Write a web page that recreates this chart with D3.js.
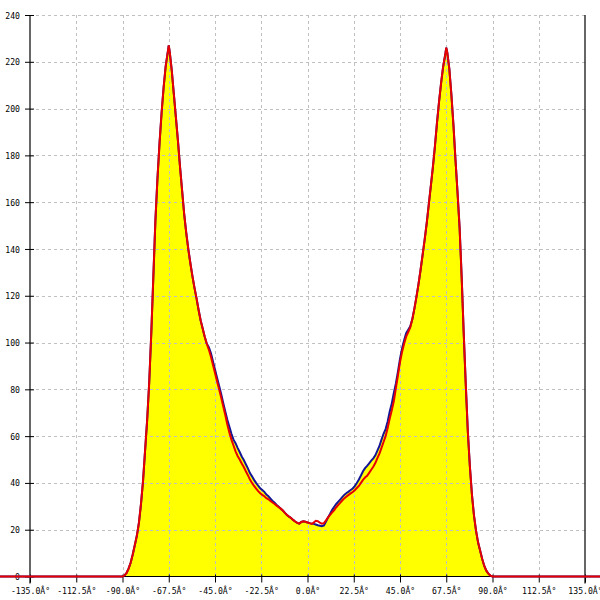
<!DOCTYPE html>
<html><head><meta charset="utf-8">
<script src="https://cdn.jsdelivr.net/npm/d3@7"></script>
<style>body{margin:0;background:#fff;overflow:hidden} text{font-family:"DejaVu Sans Mono",monospace;font-size:9.5px;fill:#000}</style>
</head><body><svg id="c" width="600" height="600"></svg>
<script>
const angles=[-150,
-90,-89,-88,-87,-86,-85,-84,-83,-82,-81,-80,-79,-78,-77,-76,-75,-74,-73,-72,-71,-70,-69,-68,-67.5,
-67,-66,-65,-64,-63,-62,-61,-60,-59,-58,-57,-56,-55,-54,-53,-52,-51,-50,
-49,-48,-47,-46,-45,-44,-43,-42,-41,-40,-39,-38,-37,-36,-35,-34,-33,-32,-31,-30,
-29,-28,-27,-26,-25,-24,-23,-22,-21,-20,-19,-18,-17,-16,-15,-14,-13,-12,-11,-10,
-9,-8,-7,-6,-5,-4,-3,-2,-1,
0,1,2,3,4,5,6,7,8,9,10,11,12,13,14,15,16,17,18,19,20,21,22,23,24,25,26,27,28,29,30,
31,32,33,34,35,36,37,38,39,40,41,42,43,44,45,46,47,48,49,50,51,52,53,54,55,56,57,58,59,60,
61,62,63,64,65,66,67,67.5,68,69,70,71,72,73,74,75,76,77,78,79,80,81,82,83,84,85,86,87,88,89,90,
150];
const redSeries=[0,
0,0.5,1.5,3.5,6,9.5,13.5,17.5,23,31,41,54,67,83,104,128,152,170,185,198,209,218,224,227,
224,216,206,196,186,175,165,155,147,140,134,128.5,123.5,119,114,109.5,106,102.5,
99.5,97,94,90.5,87,83.5,80,76.5,72.8,69,65,61.5,58.5,56,53.5,51.5,50,48.3,46.8,45,
43.3,41.4,40,38.7,37.6,36.5,35.6,34.9,34.3,33.5,33,32.3,31.6,31,30.3,29.6,29,28.2,27.2,26.3,
25.6,25,24.2,23.5,22.9,22.6,23.3,23.6,23.4,
23.1,22.8,22.5,23,23.8,23.6,23,22.6,22.8,24,25.3,26.3,27.4,28.4,29.6,30.6,31.6,32.6,33.5,34.2,34.9,35.5,36.1,36.9,37.8,38.7,40,41.3,42.3,43,44.3,
45.6,46.9,48.5,50.6,52.5,55,57.5,60,63.5,67.5,71,75,80.5,86,91.5,96,99.5,102.5,104.5,106.5,110,114.5,119.5,125,131,137.5,144,151,159,167,
175,184,194,203,211,218,223,226,224,217,206,193,178,164,149,128,104,82,62,47,35,26,19.5,14.5,11,7.5,4.5,2.5,1.2,0.4,0,
0];
const blueSeries=[0,
0,0.5,1.5,3.5,6,9.5,13.5,17.5,23,31,41,54,67,83,104,128,152,170,185,198,209,218,224,227,
224,216,206,196,186,175,165,155,147,140,134,128.5,123.5,119,114,109.5,106,102.5,
99.5,98,95.5,92,88.5,85,81.5,78,74.2,70.5,67,64,61,58.5,57,55,53.2,51.3,49.8,48,
46.2,44.2,42.8,41.3,40,38.8,37.7,37,36.2,35,34.3,33.3,32.3,31.5,30.6,29.8,29,28.2,27.2,26.3,
25.6,25,24.2,23.5,22.9,22.6,23.3,23.6,23.4,
23.1,22.8,22.6,22.5,22.2,21.9,21.7,21.5,21.8,23.5,25.2,26.8,28.5,29.8,31,32,33,34,35,35.7,36.3,37,37.6,38.6,40,41.5,43.2,45,46.3,47.3,48.4,
49.5,50.5,51.8,53.8,55.8,58.5,61,63,66.3,70.5,74,78.5,82.5,87.5,93,97.5,101,104,105.5,107,110,114.5,119.5,125,131,137.5,144,151,159,167,
175,184,194,203,211,218,223,226,224,217,206,193,178,164,149,128,104,82,62,47,35,26,19.5,14.5,11,7.5,4.5,2.5,1.2,0.4,0,
0];
const xTicks=[-135,-112.5,-90,-67.5,-45,-22.5,0,22.5,45,67.5,90,112.5,135];
const yTicks=[0,20,40,60,80,100,120,140,160,180,200,220,240];

const svg=d3.select("#c");
const x=d3.scaleLinear().domain([-135,135]).range([30,585]);
const y=d3.scaleLinear().domain([0,240]).range([576.5,15]);
const charW=4.9;

// yellow fill under blue series
const area=d3.area().x((d,i)=>x(angles[i])).y0(y(0)).y1(d=>y(d));
svg.append("path").datum(blueSeries).attr("d",area).attr("fill","#ffff00");

// grid
const grid=svg.append("g").attr("stroke","#c0c0c0").attr("stroke-dasharray","3,3").attr("shape-rendering","crispEdges");
grid.selectAll(".v").data(xTicks.filter(d=>d!==-135&&d!==135)).join("line")
  .attr("x1",d=>Math.round(x(d))+0.5).attr("x2",d=>Math.round(x(d))+0.5)
  .attr("y1",y(240)).attr("y2",y(0));
grid.selectAll(".h").data(yTicks.filter(d=>d!==0)).join("line")
  .attr("x1",x(-135)).attr("x2",x(135))
  .attr("y1",d=>Math.round(y(d))+0.5).attr("y2",d=>Math.round(y(d))+0.5);

// axes
const xAxis=svg.append("g").attr("transform",`translate(0,${y(0)})`)
  .call(d3.axisBottom(x).tickValues(xTicks).tickSizeInner(6).tickSizeOuter(0).tickFormat(d=>d.toFixed(1)+"Â°"));
xAxis.selectAll(".tick line").attr("y1",-2).attr("y2",6).attr("stroke","#000");
xAxis.selectAll(".tick text").attr("y",11)
  .style("font-family","'DejaVu Sans Mono',monospace").style("font-size","9.5px")
  .attr("textLength",function(){return this.textContent.length*charW;}).attr("lengthAdjust","spacingAndGlyphs");
xAxis.select(".domain").remove();

const yAxis=svg.append("g").attr("transform",`translate(${x(-135)},0)`)
  .call(d3.axisLeft(y).tickValues(yTicks).tickSizeInner(5).tickSizeOuter(0).tickFormat(d=>String(d)));
yAxis.selectAll(".tick line").attr("x1",4).attr("x2",-5).attr("stroke","#000");
yAxis.selectAll(".tick text").attr("x",-10)
  .style("font-family","'DejaVu Sans Mono',monospace").style("font-size","9.5px")
  .attr("textLength",function(){return this.textContent.length*charW;}).attr("lengthAdjust","spacingAndGlyphs");
yAxis.select(".domain").remove();

const ax=svg.append("g").attr("stroke","#000").attr("stroke-width",1.2);
ax.append("line").attr("x1",x(-135)).attr("x2",x(-135)).attr("y1",y(240)).attr("y2",y(0)+7);
ax.append("line").attr("x1",x(135)).attr("x2",x(135)).attr("y1",y(240)).attr("y2",y(0)+7);
ax.append("line").attr("x1",x(-135)).attr("x2",x(135)).attr("y1",y(0)).attr("y2",y(0));

// series lines
const line=d3.line().x((d,i)=>x(angles[i])).y(d=>y(d));
svg.append("path").datum(blueSeries).attr("d",line).attr("fill","none").attr("stroke","#141496").attr("stroke-width",2);
svg.append("path").datum(redSeries).attr("d",line).attr("fill","none").attr("stroke","#e60000").attr("stroke-width",2);
</script></body></html>
